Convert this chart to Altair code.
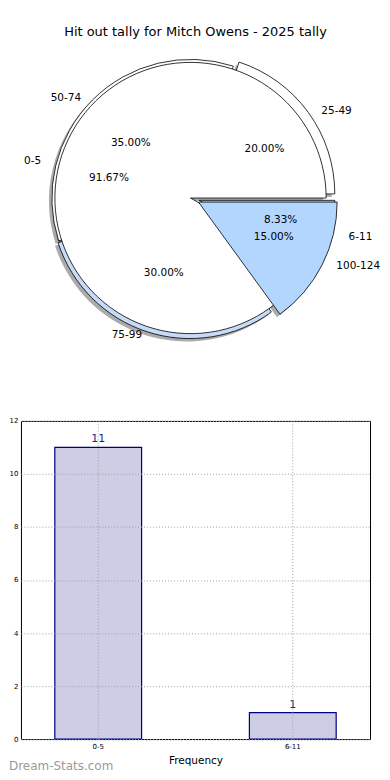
import math
import altair as alt
import pandas as pd

# ---------------- data ----------------
title_text = "Hit out tally for Mitch Owens - 2025 tally"
inner_labels = ["0-5", "6-11"]
inner_counts = [11, 1]
outer_labels = ["25-49", "50-74", "75-99", "100-124"]
outer_pcts = [20, 35, 30, 15]
bar_cats = ["0-5", "6-11"]
bar_counts = [11, 1]
y_ticks = [0, 2, 4, 6, 8, 10, 12]
watermark = ["Dream-Stats.com"]

# ---------------- styles (kept apart from the data) ----------------
style = {
    "0-5":     dict(color="#ffffff", explode=0, rad=136, layer=2),
    "6-11":    dict(color="#b3d6ff", explode=9, rad=136, layer=3),
    "25-49":   dict(color="#ffffff", explode=7, rad=139, layer=1),
    "50-74":   dict(color="#ffffff", explode=0, rad=139, layer=1),
    "75-99":   dict(color="#c6dbf8", explode=2, rad=139, layer=1),
    "100-124": dict(color="#b3d6ff", explode=9, rad=139, layer=4),
}
PIE_W, PIE_H = 362, 310
CX, CY = 170, 149.5      # pie centre inside the pie view (px)
RX, RY = 141, 129        # text placement radii

rows = []
for i, (l, v) in enumerate(zip(inner_labels, inner_counts)):
    rows.append(dict(label=l, value=v, pie="A", idx=i, **style[l]))
for i, (l, v) in enumerate(zip(outer_labels, outer_pcts)):
    rows.append(dict(label=l, value=v, pie="B", idx=i, **style[l]))
pie_df = pd.DataFrame(rows)

base = (
    alt.Chart(pie_df)
    .transform_window(cum="sum(value)", groupby=["pie"],
                      sort=[alt.SortField("idx")], frame=[None, 0])
    .transform_joinaggregate(total="sum(value)", groupby=["pie"])
    .transform_calculate(f0="(datum.cum - datum.value) / datum.total")
    .transform_calculate(f1="datum.cum / datum.total")
    .transform_calculate(phi="PI * (2 * datum.cum - datum.value) / datum.total")
    .transform_calculate(cx=f"{CX} + datum.explode * cos(datum.phi)")
    .transform_calculate(cy=f"{CY} - datum.explode * sin(datum.phi)")
    .transform_calculate(sx="datum.cx - 3")
    .transform_calculate(sy="datum.cy + 3")
    .transform_calculate(lx=f"datum.cx + (1.1 * {RX}) * cos(datum.phi)")
    .transform_calculate(ly=f"datum.cy - (1.1 * {RY}) * sin(datum.phi)")
    .transform_calculate(px=f"datum.cx + (0.6 * {RX}) * cos(datum.phi)")
    .transform_calculate(py=f"datum.cy - (0.6 * {RY}) * sin(datum.phi)")
    .transform_calculate(pct="format(datum.value / datum.total * 100, '.2f') + '%'")
)

theta_scale = alt.Scale(domain=[0, 1], range=[math.pi / 2, math.pi / 2 - 2 * math.pi])
theta = alt.Theta("f0:Q", scale=theta_scale, stack=None)
theta2 = alt.Theta2("f1:Q")
rad = alt.Radius("rad:Q", scale=None)

shadow = base.mark_arc(fill="#444444", opacity=0.45).encode(
    theta=theta, theta2=theta2, radius=rad,
    x=alt.X("sx:Q", scale=None, axis=None),
    y=alt.Y("sy:Q", scale=None, axis=None),
)


def wedge_layer(n):
    return base.mark_arc(stroke="black", strokeWidth=0.8).encode(
        theta=theta, theta2=theta2, radius=rad,
        x=alt.X("cx:Q", scale=None, axis=None),
        y=alt.Y("cy:Q", scale=None, axis=None),
        fill=alt.Fill("color:N", scale=None),
    ).transform_filter(f"datum.layer == {n}")


labels_right = base.mark_text(align="left", baseline="middle", fontSize=10.5).encode(
    x=alt.X("lx:Q", scale=None, axis=None),
    y=alt.Y("ly:Q", scale=None, axis=None),
    text="label:N",
).transform_filter("cos(datum.phi) >= 0")

labels_left = base.mark_text(align="right", baseline="middle", fontSize=10.5).encode(
    x=alt.X("lx:Q", scale=None, axis=None),
    y=alt.Y("ly:Q", scale=None, axis=None),
    text="label:N",
).transform_filter("cos(datum.phi) < 0")

pcts = base.mark_text(align="center", baseline="middle", fontSize=10.5).encode(
    x=alt.X("px:Q", scale=None, axis=None),
    y=alt.Y("py:Q", scale=None, axis=None),
    text="pct:N",
)

pie = alt.layer(
    shadow, wedge_layer(1), wedge_layer(2), wedge_layer(3), wedge_layer(4),
    labels_right, labels_left, pcts,
).properties(
    width=PIE_W, height=PIE_H,
    title=alt.TitleParams(title_text, fontSize=13, fontWeight="normal",
                          anchor="middle", offset=10, dx=-6),
)

# ---------------- bar chart ----------------
bar_df = pd.DataFrame({"cat": bar_cats, "count": bar_counts})
wm_df = pd.DataFrame({"w": watermark})

BAR_W, BAR_H = 350, 319

x_enc = alt.X(
    "cat:N", sort=bar_cats,
    scale=alt.Scale(paddingInner=0.554, paddingOuter=0.174),
    axis=alt.Axis(title="Frequency", labelAngle=0, labelFontSize=7,
                  titleFontSize=10.5, titleFontWeight="normal", grid=True,
                  gridDash=[1, 2], gridColor="#a0a0a0", bandPosition=0.5,
                  ticks=False, domain=False, labelPadding=3, titlePadding=6,
                  zindex=1),
)
y_enc = alt.Y(
    "count:Q",
    scale=alt.Scale(domain=[0, 12], nice=False),
    axis=alt.Axis(values=y_ticks, title=None, labelFontSize=7, grid=True,
                  gridDash=[1, 2], gridColor="#a0a0a0", ticks=False,
                  domain=False, labelPadding=3, zindex=1,
                  minExtent=12, maxExtent=12),
)

bars = alt.Chart(bar_df).mark_bar(fill="#cdcde6", stroke="#000080",
                                  strokeWidth=1.2).encode(x=x_enc, y=y_enc)
bar_text = alt.Chart(bar_df).mark_text(baseline="bottom", dy=-3, fontSize=11,
                                       color="#1c1c8c").encode(
    x=alt.X("cat:N", sort=bar_cats), y="count:Q", text="count:Q")
wm = alt.Chart(wm_df).mark_text(align="left", baseline="middle", fontSize=12,
                                color="#9a9a9a").encode(
    x=alt.value(-12), y=alt.value(BAR_H + 27), text="w:N")

bar = alt.layer(bars, bar_text, wm).properties(
    width=BAR_W, height=BAR_H,
    view=alt.ViewBackground(stroke="black", strokeWidth=1),
)

chart = (
    alt.vconcat(pie, bar, spacing=63, bounds="flush")
    .properties(padding={"left": 0, "top": 17, "right": 0, "bottom": 0})
    .configure(font="DejaVu Sans")
    .configure_view(stroke=None)
    .configure_axis(labelColor="black", titleColor="black")
)

chart.save("out.html", embed_options={"renderer": "svg", "actions": False})
